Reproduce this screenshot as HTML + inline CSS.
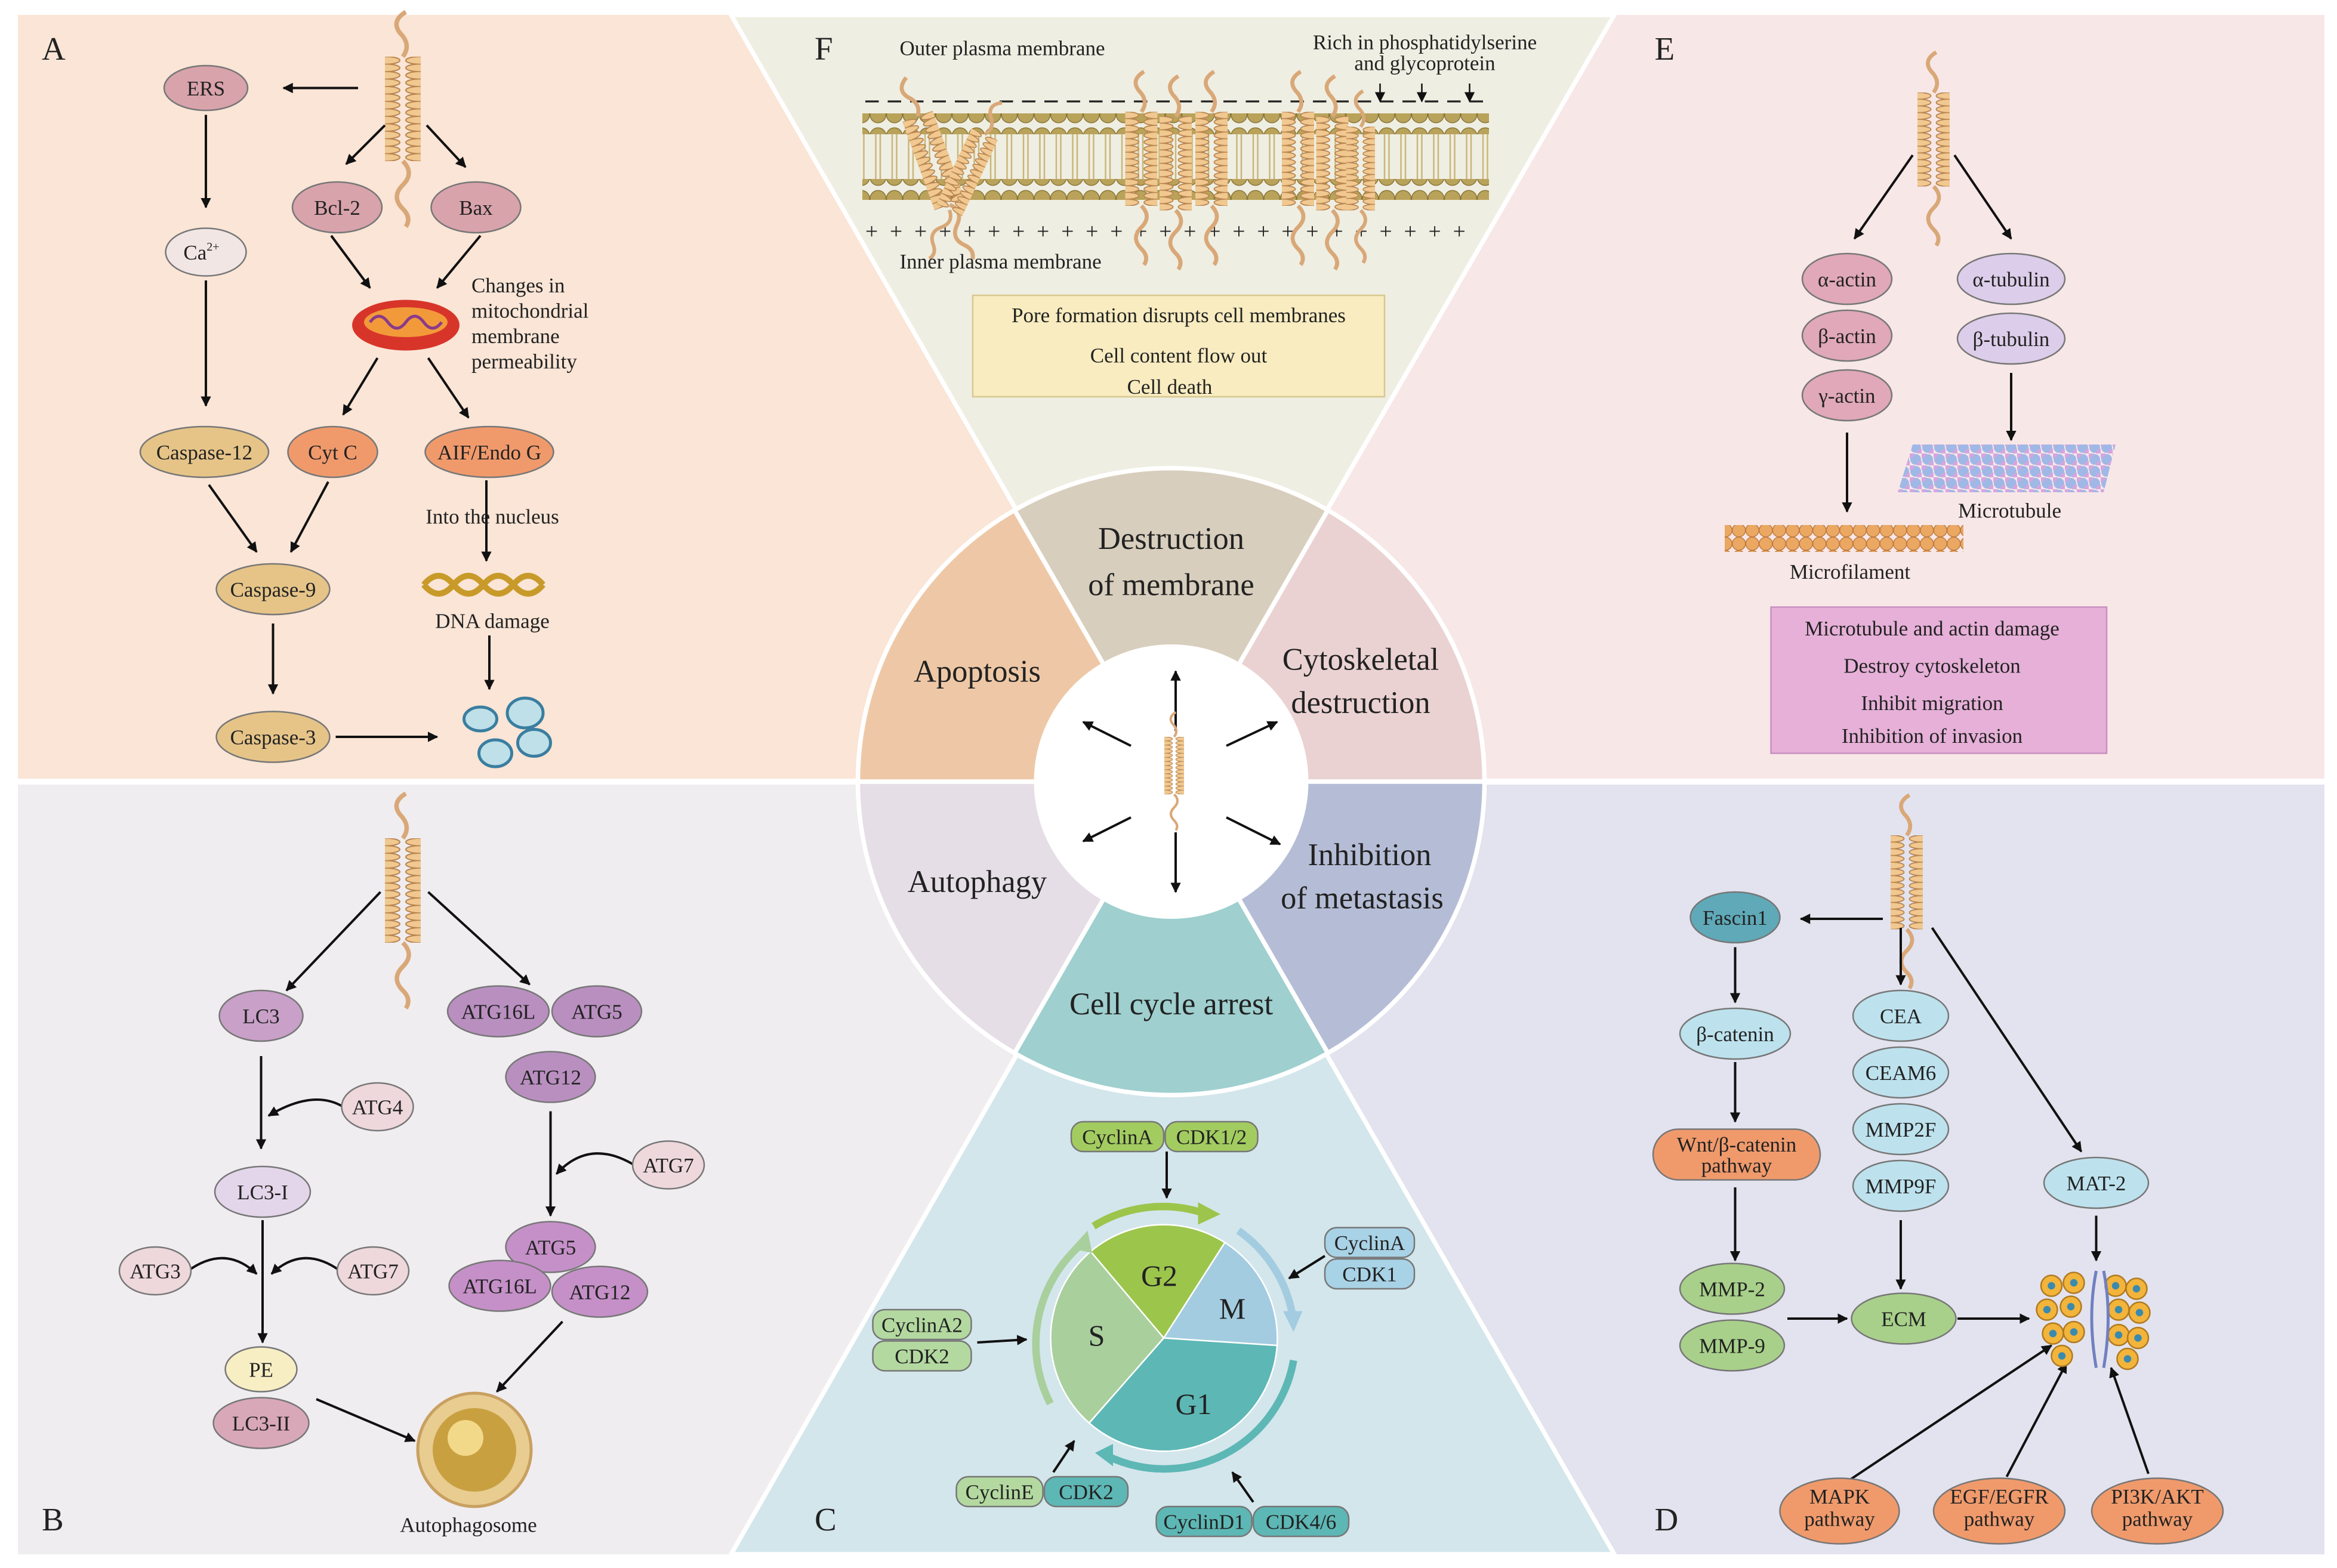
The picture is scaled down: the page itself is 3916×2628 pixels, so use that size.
<!DOCTYPE html>
<html><head><meta charset="utf-8"><style>html,body{margin:0;padding:0;background:#fff}svg{display:block}text{font-family:"Liberation Serif",serif;fill:#222}</style></head><body>
<svg width="3916" height="2628" viewBox="0 0 1566.4 1051.2" xmlns="http://www.w3.org/2000/svg">
<defs>
<marker id="ah" viewBox="0 0 10 10" refX="9" refY="5" markerWidth="7" markerHeight="7" orient="auto-start-reverse" markerUnits="userSpaceOnUse"><path d="M0,0L10,5L0,10z" fill="#111"/></marker>
<pattern id="coil" width="24" height="5" patternUnits="userSpaceOnUse"><ellipse cx="12" cy="2.5" rx="10" ry="2.6" fill="#f0c890" stroke="#b9844e" stroke-width="0.8"/></pattern>
<g id="helix"><rect x="-12" y="0" width="24" height="70" fill="url(#coil)"/><path d="M0,70 q8,8 0,16 q-8,8 0,16 q6,6 2,12" fill="none" stroke="#d9a878" stroke-width="3"/><path d="M0,0 q6,-8 -2,-16 q-6,-8 4,-14" fill="none" stroke="#d9a878" stroke-width="3"/></g>
<pattern id="heads" width="11" height="14" patternUnits="userSpaceOnUse"><circle cx="5.5" cy="7" r="5.3" fill="#b9a25a" stroke="#8a7638" stroke-width="0.6"/></pattern>
<pattern id="tails" width="11" height="30" patternUnits="userSpaceOnUse"><path d="M4,0V30M7,0V30" stroke="#c9b67a" stroke-width="1"/></pattern>
<pattern id="mt" width="8" height="8" patternUnits="userSpaceOnUse"><circle cx="4" cy="4" r="3.6" fill="#9fb8e6"/><circle cx="0" cy="0" r="3.2" fill="#d4a6e0"/><circle cx="8" cy="8" r="3.2" fill="#d4a6e0"/></pattern>
<pattern id="mf" width="9" height="9" patternUnits="userSpaceOnUse"><circle cx="4.5" cy="4.5" r="4.4" fill="#eaa862" stroke="#c07a40" stroke-width="0.6"/></pattern>
</defs>
<rect x="12" y="10" width="773" height="512" fill="#fae5d6"/>
<rect x="785" y="10" width="773" height="512" fill="#f8e7e7"/>
<rect x="12" y="526" width="773" height="516" fill="#f0edf0"/>
<rect x="785" y="526" width="773" height="516" fill="#e3e3ef"/>
<polygon points="490,10 1082,10 785,522" fill="#efeee2" stroke="#fff" stroke-width="3"/>
<polygon points="490,1042 1082,1042 785,526" fill="#d3e6ec" stroke="#fff" stroke-width="3"/>
<line x1="12" y1="524" x2="1558" y2="524" stroke="#fff" stroke-width="4"/>
<g stroke="#fff" stroke-width="3">
<path d="M785,524 L680,342 A210,210 0 0 1 890,342 Z" fill="#d8cebd"/>
<path d="M785,524 L890,342 A210,210 0 0 1 995,524 Z" fill="#ebd2d2"/>
<path d="M785,524 L995,524 A210,210 0 0 1 890,706 Z" fill="#b5bdd6"/>
<path d="M785,524 L890,706 A210,210 0 0 1 680,706 Z" fill="#9fcfcf"/>
<path d="M785,524 L680,706 A210,210 0 0 1 575,524 Z" fill="#e6dee6"/>
<path d="M785,524 L575,524 A210,210 0 0 1 680,342 Z" fill="#eec8a6"/>
</g>
<circle cx="785" cy="524" r="92" fill="#fff"/>
<g font-size="21" text-anchor="middle">
<text x="785" y="368">Destruction</text><text x="785" y="399">of membrane</text>
<text x="655" y="457">Apoptosis</text>
<text x="912" y="449">Cytoskeletal</text><text x="912" y="478">destruction</text>
<text x="655" y="598">Autophagy</text>
<text x="918" y="580">Inhibition</text><text x="913" y="609">of metastasis</text>
<text x="785" y="680">Cell cycle arrest</text>
</g>
<g stroke="#111" stroke-width="1.6" marker-end="url(#ah)">
<line x1="788" y1="490" x2="788" y2="450"/><line x1="788" y1="558" x2="788" y2="598"/>
<line x1="758" y1="500" x2="726" y2="484"/><line x1="822" y1="500" x2="856" y2="484"/>
<line x1="758" y1="548" x2="726" y2="564"/><line x1="822" y1="548" x2="858" y2="566"/>
</g>
<use href="#helix" transform="translate(787,494) scale(0.55)"/>
<g font-size="22"><text x="28" y="40">A</text><text x="546" y="40">F</text><text x="1109" y="40">E</text><text x="28" y="1026">B</text><text x="546" y="1026">C</text><text x="1109" y="1026">D</text></g>

<!-- Panel A -->
<use href="#helix" transform="translate(270,38)"/>
<g stroke="#111" stroke-width="1.6" marker-end="url(#ah)" fill="none">
<line x1="240" y1="59" x2="190" y2="59"/><line x1="258" y1="84" x2="232" y2="110"/><line x1="286" y1="84" x2="312" y2="112"/>
<line x1="138" y1="77" x2="138" y2="139"/><line x1="138" y1="188" x2="138" y2="272"/>
<line x1="222" y1="158" x2="248" y2="193"/><line x1="322" y1="158" x2="293" y2="193"/>
<line x1="253" y1="240" x2="230" y2="278"/><line x1="287" y1="240" x2="314" y2="280"/>
<line x1="140" y1="325" x2="172" y2="370"/><line x1="220" y1="323" x2="195" y2="370"/>
<line x1="183" y1="418" x2="183" y2="465"/><line x1="225" y1="494" x2="293" y2="494"/>
<line x1="326" y1="322" x2="326" y2="376"/><line x1="328" y1="426" x2="328" y2="462"/>
</g>
<g stroke="#777" stroke-width="1">
<ellipse cx="138" cy="59" rx="28" ry="15" fill="#d9a3ab"/>
<ellipse cx="226" cy="139" rx="30" ry="17" fill="#d9a3ab"/>
<ellipse cx="319" cy="139" rx="30" ry="17" fill="#d9a3ab"/>
<ellipse cx="138" cy="169" rx="27" ry="16" fill="#f2e6e4"/>
<ellipse cx="137" cy="303" rx="43" ry="17" fill="#e6c488"/>
<ellipse cx="223" cy="303" rx="30" ry="17" fill="#f09a6c"/>
<ellipse cx="328" cy="303" rx="43" ry="17" fill="#f09a6c"/>
<ellipse cx="183" cy="395" rx="38" ry="17" fill="#e6c488"/>
<ellipse cx="183" cy="494" rx="38" ry="17" fill="#e6c488"/>
</g>
<ellipse cx="272" cy="218" rx="36" ry="17" fill="#d8352a"/><ellipse cx="272" cy="216" rx="28" ry="10" fill="#f29a3a"/><path d="M248,216 q6,-8 12,0 t12,0 t12,0 t12,0" stroke="#8a3a8a" fill="none" stroke-width="2"/>
<path d="M284,392 q10,-12 20,0 t20,0 t20,0 t20,0 M284,392 q10,12 20,0 t20,0 t20,0 t20,0" stroke="#c89a2a" stroke-width="4" fill="none"/>
<g fill="#bfe0e8" stroke="#3a7ea0" stroke-width="2"><ellipse cx="322" cy="482" rx="11" ry="8"/><ellipse cx="352" cy="478" rx="12" ry="10"/><ellipse cx="332" cy="505" rx="11" ry="9"/><ellipse cx="358" cy="498" rx="11" ry="9"/></g>
<g font-size="14" text-anchor="middle">
<text x="138" y="64">ERS</text><text x="226" y="144">Bcl-2</text><text x="319" y="144">Bax</text><text x="135" y="174">Ca<tspan font-size="8" dy="-6">2+</tspan></text>
<text x="137" y="308">Caspase-12</text><text x="223" y="308">Cyt C</text><text x="328" y="308">AIF/Endo G</text>
<text x="183" y="400">Caspase-9</text><text x="183" y="499">Caspase-3</text>
<text x="330" y="351">Into the nucleus</text><text x="330" y="421">DNA damage</text>
</g>
<g font-size="14"><text x="316" y="196">Changes in</text><text x="316" y="213">mitochondrial</text><text x="316" y="230">membrane</text><text x="316" y="247">permeability</text></g>

<!-- Panel B -->
<use href="#helix" transform="translate(270,562)"/>
<g stroke="#111" stroke-width="1.6" fill="none" marker-end="url(#ah)">
<line x1="255" y1="598" x2="192" y2="664"/><line x1="287" y1="598" x2="355" y2="660"/>
<line x1="175" y1="708" x2="175" y2="770"/><line x1="176" y1="818" x2="176" y2="900"/>
<line x1="369" y1="745" x2="369" y2="815"/>
<line x1="212" y1="938" x2="278" y2="966"/><line x1="377" y1="886" x2="333" y2="933"/>
<path d="M230,742 q-20,-12 -50,6"/><path d="M425,781 q-30,-18 -52,6"/>
<path d="M126,852 q25,-18 46,2"/><path d="M228,852 q-25,-18 -46,2"/>
</g>
<g stroke="#777" stroke-width="1">
<ellipse cx="175" cy="681" rx="28" ry="17" fill="#c8a0c8"/>
<ellipse cx="334" cy="678" rx="34" ry="17" fill="#b98fc0"/><ellipse cx="400" cy="678" rx="30" ry="17" fill="#b98fc0"/>
<ellipse cx="369" cy="722" rx="30" ry="17" fill="#b98fc0"/>
<ellipse cx="253" cy="742" rx="24" ry="16" fill="#eed8dc"/>
<ellipse cx="176" cy="799" rx="32" ry="17" fill="#e4d6ea"/>
<ellipse cx="448" cy="781" rx="24" ry="16" fill="#eed8dc"/>
<ellipse cx="104" cy="852" rx="24" ry="16" fill="#eed8dc"/><ellipse cx="250" cy="852" rx="24" ry="16" fill="#eed8dc"/>
<ellipse cx="369" cy="836" rx="30" ry="17" fill="#c590c8"/><ellipse cx="335" cy="862" rx="34" ry="17" fill="#c590c8"/><ellipse cx="402" cy="866" rx="32" ry="17" fill="#c590c8"/>
<ellipse cx="175" cy="918" rx="24" ry="15" fill="#f7eec4"/><ellipse cx="175" cy="954" rx="32" ry="17" fill="#d9a8b8"/>
</g>
<circle cx="318" cy="972" r="38" fill="#e8cc90" stroke="#c8a060" stroke-width="2"/><circle cx="318" cy="972" r="28" fill="#c9a040"/><circle cx="312" cy="964" r="12" fill="#f2d98a"/>
<g font-size="14" text-anchor="middle">
<text x="175" y="686">LC3</text><text x="334" y="683">ATG16L</text><text x="400" y="683">ATG5</text><text x="369" y="727">ATG12</text>
<text x="253" y="747">ATG4</text><text x="176" y="804">LC3-I</text><text x="448" y="786">ATG7</text>
<text x="104" y="857">ATG3</text><text x="250" y="857">ATG7</text>
<text x="369" y="841">ATG5</text><text x="335" y="867">ATG16L</text><text x="402" y="871">ATG12</text>
<text x="175" y="923">PE</text><text x="175" y="959">LC3-II</text><text x="314" y="1027">Autophagosome</text>
</g>

<!-- Panel F -->
<line x1="580" y1="68" x2="998" y2="68" stroke="#222" stroke-width="1.3" stroke-dasharray="9,6"/>
<rect x="578" y="76" width="420" height="14" fill="url(#heads)"/>
<rect x="578" y="90" width="420" height="30" fill="url(#tails)"/>
<rect x="578" y="120" width="420" height="14" fill="url(#heads)"/>
<text x="580" y="160" font-size="15" letter-spacing="2.1">+ + + + + + + + + + + + + + + + + + + + + + + + +</text>
<g transform="translate(615,78) rotate(-20)"><use href="#helix" transform="scale(0.9,0.9)"/></g>
<g transform="translate(660,90) rotate(25)"><use href="#helix" transform="scale(0.8)"/></g>
<use href="#helix" transform="translate(765,75) scale(0.9)"/><use href="#helix" transform="translate(788,78) scale(0.9)"/><use href="#helix" transform="translate(812,75) scale(0.9)"/>
<use href="#helix" transform="translate(870,75) scale(0.9)"/><use href="#helix" transform="translate(893,78) scale(0.9)"/><use href="#helix" transform="translate(912,85) scale(0.8)"/>
<g font-size="14"><text x="603" y="37">Outer plasma membrane</text><text x="603" y="180">Inner plasma membrane</text></g>
<g font-size="14" text-anchor="middle"><text x="955" y="33">Rich in phosphatidylserine</text><text x="955" y="47">and glycoprotein</text></g>
<g stroke="#111" stroke-width="1" marker-end="url(#ah)"><line x1="925" y1="56" x2="925" y2="68"/><line x1="953" y1="56" x2="953" y2="68"/><line x1="985" y1="56" x2="985" y2="68"/></g>
<rect x="652" y="198" width="276" height="68" fill="#f8ecc0" stroke="#d8c890"/>
<g font-size="14" text-anchor="middle"><text x="790" y="216">Pore formation disrupts cell membranes</text><text x="790" y="243">Cell content flow out</text><text x="784" y="264">Cell death</text></g>

<!-- Panel E -->
<use href="#helix" transform="translate(1296,62) scale(0.9)"/>
<g stroke="#111" stroke-width="1.6" marker-end="url(#ah)"><line x1="1282" y1="104" x2="1243" y2="160"/><line x1="1310" y1="104" x2="1348" y2="160"/><line x1="1238" y1="290" x2="1238" y2="343"/><line x1="1348" y1="250" x2="1348" y2="295"/></g>
<g stroke="#777" stroke-width="1">
<ellipse cx="1238" cy="187" rx="30" ry="17" fill="#e0a8b8"/><ellipse cx="1238" cy="225" rx="30" ry="17" fill="#e0a8b8"/><ellipse cx="1238" cy="265" rx="30" ry="17" fill="#e0a8b8"/>
<ellipse cx="1348" cy="187" rx="36" ry="17" fill="#dccdea"/><ellipse cx="1348" cy="227" rx="36" ry="17" fill="#dccdea"/>
</g>
<g font-size="14" text-anchor="middle"><text x="1238" y="192">α-actin</text><text x="1238" y="230">β-actin</text><text x="1238" y="270">γ-actin</text><text x="1348" y="192">α-tubulin</text><text x="1348" y="232">β-tubulin</text>
<text x="1347" y="347">Microtubule</text><text x="1240" y="388">Microfilament</text></g>
<polygon points="1282,298 1418,298 1410,330 1272,330" fill="url(#mt)"/>
<rect x="1156" y="352" width="160" height="18" fill="url(#mf)"/>
<rect x="1187" y="407" width="225" height="98" fill="#e6b0d8" stroke="#c890c0"/>
<g font-size="14" text-anchor="middle"><text x="1295" y="426">Microtubule and actin damage</text><text x="1295" y="451">Destroy cytoskeleton</text><text x="1295" y="476">Inhibit migration</text><text x="1295" y="498">Inhibition of invasion</text></g>

<!-- Panel D -->
<use href="#helix" transform="translate(1278,560) scale(0.9)"/>
<g stroke="#111" stroke-width="1.6" marker-end="url(#ah)" fill="none">
<line x1="1262" y1="616" x2="1207" y2="616"/><line x1="1274" y1="622" x2="1274" y2="660"/><line x1="1295" y1="622" x2="1395" y2="772"/>
<line x1="1163" y1="635" x2="1163" y2="672"/><line x1="1163" y1="712" x2="1163" y2="752"/><line x1="1163" y1="796" x2="1163" y2="845"/>
<line x1="1198" y1="884" x2="1238" y2="884"/><line x1="1312" y1="884" x2="1360" y2="884"/><line x1="1274" y1="818" x2="1274" y2="864"/>
<line x1="1405" y1="815" x2="1405" y2="845"/>
<line x1="1240" y1="992" x2="1375" y2="902"/><line x1="1345" y1="990" x2="1385" y2="914"/><line x1="1440" y1="988" x2="1415" y2="917"/>
</g>
<g stroke="#777" stroke-width="1">
<ellipse cx="1163" cy="615" rx="30" ry="17" fill="#5fa9b8"/>
<ellipse cx="1163" cy="693" rx="37" ry="17" fill="#bde2ee"/>
<rect x="1108" y="757" width="112" height="34" rx="17" fill="#f09a6c"/>
<ellipse cx="1161" cy="864" rx="35" ry="17" fill="#a8d08a"/><ellipse cx="1161" cy="902" rx="35" ry="17" fill="#a8d08a"/>
<ellipse cx="1274" cy="681" rx="32" ry="17" fill="#bde2ee"/><ellipse cx="1274" cy="719" rx="32" ry="17" fill="#bde2ee"/><ellipse cx="1274" cy="757" rx="32" ry="17" fill="#bde2ee"/><ellipse cx="1274" cy="795" rx="32" ry="17" fill="#bde2ee"/>
<ellipse cx="1276" cy="884" rx="35" ry="17" fill="#a8d08a"/>
<ellipse cx="1405" cy="793" rx="35" ry="17" fill="#bde2ee"/>
<ellipse cx="1233" cy="1013" rx="40" ry="22" fill="#f09a6c"/><ellipse cx="1340" cy="1013" rx="44" ry="22" fill="#f09a6c"/><ellipse cx="1446" cy="1013" rx="44" ry="22" fill="#f09a6c"/>
</g>
<g fill="#f2b43a" stroke="#b07a20"><circle cx="1375" cy="862" r="7"/><circle cx="1390" cy="860" r="7"/><circle cx="1372" cy="878" r="7"/><circle cx="1388" cy="876" r="7"/><circle cx="1376" cy="894" r="7"/><circle cx="1390" cy="893" r="7"/><circle cx="1382" cy="909" r="7"/><circle cx="1418" cy="862" r="7"/><circle cx="1432" cy="864" r="7"/><circle cx="1420" cy="878" r="7"/><circle cx="1434" cy="880" r="7"/><circle cx="1420" cy="895" r="7"/><circle cx="1433" cy="897" r="7"/><circle cx="1426" cy="911" r="7"/></g>
<g fill="#3a8ab0"><circle cx="1375" cy="862" r="2.5"/><circle cx="1390" cy="860" r="2.5"/><circle cx="1372" cy="878" r="2.5"/><circle cx="1388" cy="876" r="2.5"/><circle cx="1376" cy="894" r="2.5"/><circle cx="1390" cy="893" r="2.5"/><circle cx="1382" cy="909" r="2.5"/><circle cx="1418" cy="862" r="2.5"/><circle cx="1432" cy="864" r="2.5"/><circle cx="1420" cy="878" r="2.5"/><circle cx="1434" cy="880" r="2.5"/><circle cx="1420" cy="895" r="2.5"/><circle cx="1433" cy="897" r="2.5"/><circle cx="1426" cy="911" r="2.5"/></g>
<path d="M1405,852 q-6,30 0,65 M1410,852 q6,30 0,65" stroke="#7080c0" stroke-width="2" fill="none"/>
<g font-size="14" text-anchor="middle"><text x="1163" y="620">Fascin1</text><text x="1163" y="698">β-catenin</text><text x="1164" y="772">Wnt/β-catenin</text><text x="1164" y="786">pathway</text>
<text x="1161" y="869">MMP-2</text><text x="1161" y="907">MMP-9</text><text x="1274" y="686">CEA</text><text x="1274" y="724">CEAM6</text><text x="1274" y="762">MMP2F</text><text x="1274" y="800">MMP9F</text>
<text x="1276" y="889">ECM</text><text x="1405" y="798">MAT-2</text>
<text x="1233" y="1008">MAPK</text><text x="1233" y="1023">pathway</text><text x="1340" y="1008">EGF/EGFR</text><text x="1340" y="1023">pathway</text><text x="1446" y="1008">PI3K/AKT</text><text x="1446" y="1023">pathway</text></g>

<!-- Panel C -->
<g stroke="#fff" stroke-width="1">
<path d="M780,897 L731,839 A76,76 0 0 1 821,833 Z" fill="#9cc54c"/>
<path d="M780,897 L821,833 A76,76 0 0 1 856,902 Z" fill="#a3cce0"/>
<path d="M780,897 L856,902 A76,76 0 0 1 730,954 Z" fill="#5db7b5"/>
<path d="M780,897 L730,954 A76,76 0 0 1 731,839 Z" fill="#a9cf9d"/>
</g>
<g fill="none" stroke-width="5">
<path d="M733,822 A88,88 0 0 1 806,813" stroke="#9cc54c"/>
<path d="M830,825 A88,88 0 0 1 866,880" stroke="#a3cce0"/>
<path d="M867,912 A88,88 0 0 1 742,976" stroke="#5db7b5"/>
<path d="M704,941 A88,88 0 0 1 725,834" stroke="#a9cf9d"/>
</g>
<polygon points="803,806 818,814 803,821" fill="#9cc54c"/>
<polygon points="860,879 867,893 873,879" fill="#a3cce0"/>
<polygon points="746,968 734,974 746,983" fill="#5db7b5"/>
<polygon points="718,837 729,825 732,840" fill="#a9cf9d"/>
<g font-size="20" text-anchor="middle"><text x="777" y="862">G2</text><text x="826" y="884">M</text><text x="735" y="902">S</text><text x="800" y="948">G1</text></g>
<g stroke="#111" stroke-width="1.6" marker-end="url(#ah)">
<line x1="782" y1="772" x2="782" y2="803"/><line x1="888" y1="842" x2="864" y2="857"/><line x1="655" y1="900" x2="688" y2="898"/>
<line x1="706" y1="987" x2="720" y2="966"/><line x1="840" y1="1007" x2="826" y2="987"/>
</g>
<g stroke="#777" stroke-width="1">
<rect x="718" y="752" width="62" height="20" rx="8" fill="#a3cc60"/><rect x="781" y="752" width="62" height="20" rx="8" fill="#a3cc60"/>
<rect x="888" y="823" width="60" height="20" rx="8" fill="#a8d2e6"/><rect x="888" y="844" width="60" height="20" rx="8" fill="#a8d2e6"/>
<rect x="585" y="878" width="66" height="20" rx="8" fill="#b3d9a0"/><rect x="585" y="899" width="66" height="20" rx="8" fill="#b3d9a0"/>
<rect x="641" y="990" width="58" height="20" rx="8" fill="#b3d9a0"/><rect x="700" y="990" width="56" height="20" rx="8" fill="#5db7b5"/>
<rect x="775" y="1010" width="64" height="20" rx="8" fill="#5db7b5"/><rect x="840" y="1010" width="64" height="20" rx="8" fill="#5db7b5"/>
</g>
<g font-size="14" text-anchor="middle">
<text x="749" y="767">CyclinA</text><text x="812" y="767">CDK1/2</text><text x="918" y="838">CyclinA</text><text x="918" y="859">CDK1</text>
<text x="618" y="893">CyclinA2</text><text x="618" y="914">CDK2</text><text x="670" y="1005">CyclinE</text><text x="728" y="1005">CDK2</text>
<text x="807" y="1025">CyclinD1</text><text x="872" y="1025">CDK4/6</text>
</g>
</svg>
</body></html>
